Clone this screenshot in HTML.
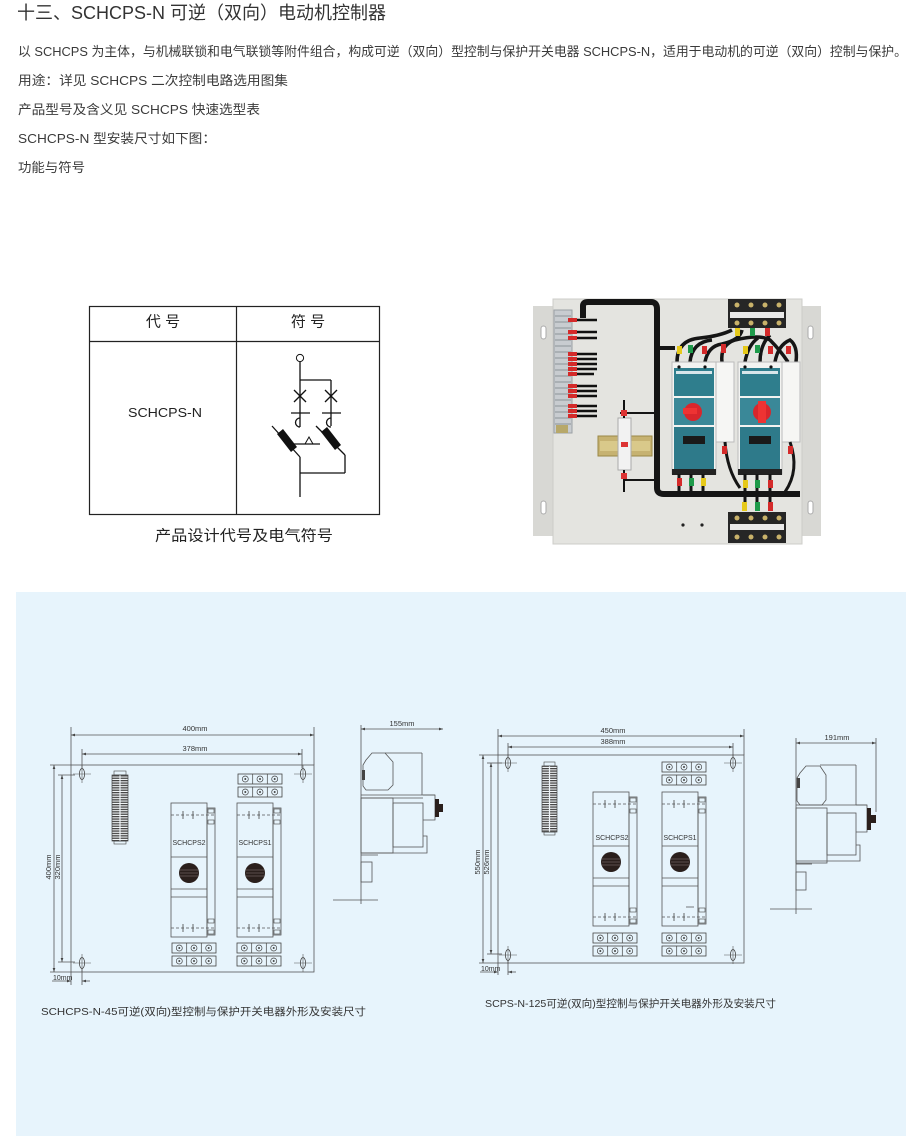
<!DOCTYPE html>
<html><head><meta charset="utf-8"><style>
html,body{margin:0;padding:0;background:#fff;}
svg{display:block;}
text{font-family:"Liberation Sans","Noto Sans CJK SC",sans-serif;}
</style></head><body>
<svg width="910" height="1137" viewBox="0 0 910 1137" xmlns="http://www.w3.org/2000/svg">
<defs>
<marker id="ar" viewBox="0 0 6 6" refX="6" refY="3" markerWidth="5" markerHeight="5" orient="auto-start-reverse"><path d="M0,1 L6,3 L0,5 z" fill="#444"/></marker>
<pattern id="hatch" width="4" height="2.4" patternUnits="userSpaceOnUse"><rect width="4" height="2.4" fill="#f4f8fa"/><rect width="4" height="1.3" fill="#444"/></pattern>
<g id="unit">
<rect x="0" y="0" width="36" height="134" fill="none" stroke="#555" stroke-width="0.8"/>
<rect x="36" y="5" width="8" height="127" fill="none" stroke="#555" stroke-width="0.8"/>
<line x1="0" y1="12" x2="44" y2="12" stroke="#555" stroke-width="0.7" stroke-dasharray="3,2"/>
<line x1="12" y1="8" x2="12" y2="16" stroke="#444" stroke-width="0.8"/>
<line x1="22" y1="8" x2="22" y2="16" stroke="#444" stroke-width="0.8"/>
<line x1="0" y1="54" x2="36" y2="54" stroke="#555" stroke-width="0.7"/>
<line x1="0" y1="86" x2="36" y2="86" stroke="#555" stroke-width="0.7"/>
<line x1="0" y1="94" x2="36" y2="94" stroke="#555" stroke-width="0.7"/>
<line x1="0" y1="125" x2="44" y2="125" stroke="#555" stroke-width="0.7" stroke-dasharray="3,2"/>
<line x1="12" y1="121" x2="12" y2="129" stroke="#444" stroke-width="0.8"/>
<line x1="22" y1="121" x2="22" y2="129" stroke="#444" stroke-width="0.8"/>
<rect x="37" y="6" width="6" height="4" fill="none" stroke="#444" stroke-width="0.6"/>
<rect x="37" y="17" width="6" height="4" fill="none" stroke="#444" stroke-width="0.6"/>
<rect x="37" y="116" width="6" height="4" fill="none" stroke="#444" stroke-width="0.6"/>
<rect x="37" y="127" width="6" height="4" fill="none" stroke="#444" stroke-width="0.6"/>
<circle cx="18" cy="70" r="10" fill="#2a1f1c"/>
<line x1="9" y1="67" x2="27" y2="67" stroke="#8a7f7a" stroke-width="0.6"/>
<line x1="9" y1="70" x2="27" y2="70" stroke="#8a7f7a" stroke-width="0.6"/>
<line x1="9" y1="73" x2="27" y2="73" stroke="#8a7f7a" stroke-width="0.6"/>
</g>
<g id="tb">
<rect x="0" y="0" width="44" height="10" fill="none" stroke="#444" stroke-width="0.8"/>
<rect x="0" y="13" width="44" height="10" fill="none" stroke="#444" stroke-width="0.8"/>
<line x1="14.7" y1="0" x2="14.7" y2="10" stroke="#444" stroke-width="0.7"/>
<line x1="29.3" y1="0" x2="29.3" y2="10" stroke="#444" stroke-width="0.7"/>
<line x1="14.7" y1="13" x2="14.7" y2="23" stroke="#444" stroke-width="0.7"/>
<line x1="29.3" y1="13" x2="29.3" y2="23" stroke="#444" stroke-width="0.7"/>
<g fill="none" stroke="#444" stroke-width="0.7">
<circle cx="7.3" cy="5" r="3"/><circle cx="22" cy="5" r="3"/><circle cx="36.7" cy="5" r="3"/>
<circle cx="7.3" cy="18" r="3"/><circle cx="22" cy="18" r="3"/><circle cx="36.7" cy="18" r="3"/>
</g>
<g fill="#444"><circle cx="7.3" cy="5" r="1"/><circle cx="22" cy="5" r="1"/><circle cx="36.7" cy="5" r="1"/><circle cx="7.3" cy="18" r="1"/><circle cx="22" cy="18" r="1"/><circle cx="36.7" cy="18" r="1"/></g>
</g>
<g id="hole">
<ellipse cx="0" cy="0" rx="2.6" ry="5.5" fill="none" stroke="#444" stroke-width="0.8"/>
<line x1="-9" y1="0" x2="9" y2="0" stroke="#555" stroke-width="0.6"/>
<line x1="0" y1="-9" x2="0" y2="9" stroke="#555" stroke-width="0.6"/>
</g>
</defs>

<!-- header text -->
<text x="17" y="19" font-size="18" fill="#333" textLength="369" lengthAdjust="spacingAndGlyphs">十三、SCHCPS-N 可逆（双向）电动机控制器</text>
<text x="18" y="56" font-size="13" fill="#3a3a3a" textLength="889" lengthAdjust="spacingAndGlyphs">以 SCHCPS 为主体，与机械联锁和电气联锁等附件组合，构成可逆（双向）型控制与保护开关电器 SCHCPS-N，适用于电动机的可逆（双向）控制与保护。</text>
<text x="18" y="85" font-size="13" fill="#3a3a3a" textLength="270" lengthAdjust="spacingAndGlyphs">用途：详见 SCHCPS 二次控制电路选用图集</text>
<text x="18" y="114" font-size="13" fill="#3a3a3a" textLength="242" lengthAdjust="spacingAndGlyphs">产品型号及含义见 SCHCPS 快速选型表</text>
<text x="18" y="143" font-size="13" fill="#3a3a3a" textLength="198" lengthAdjust="spacingAndGlyphs">SCHCPS-N 型安装尺寸如下图：</text>
<text x="18" y="172" font-size="13" fill="#3a3a3a" textLength="67" lengthAdjust="spacingAndGlyphs">功能与符号</text>

<!-- table -->
<rect x="89.5" y="306.5" width="290" height="208" fill="none" stroke="#222" stroke-width="1.2"/>
<line x1="89.5" y1="341.5" x2="379.5" y2="341.5" stroke="#222" stroke-width="1.2"/>
<line x1="236.5" y1="306.5" x2="236.5" y2="514.5" stroke="#222" stroke-width="1.2"/>
<text x="163" y="326.5" font-size="15" fill="#222" text-anchor="middle">代 号</text>
<text x="308" y="326.5" font-size="15" fill="#222" text-anchor="middle">符 号</text>
<text x="128" y="417" font-size="13" fill="#222" textLength="74" lengthAdjust="spacingAndGlyphs">SCHCPS-N</text>
<text x="155" y="540.5" font-size="15" fill="#222" textLength="178" lengthAdjust="spacingAndGlyphs">产品设计代号及电气符号</text>

<!-- symbol -->
<g stroke="#111" stroke-width="1.3" fill="none">
<circle cx="300" cy="358" r="3.6" stroke-width="1"/>
<line x1="300" y1="362" x2="300" y2="427"/>
<line x1="300" y1="380" x2="331" y2="380"/>
<line x1="331" y1="380" x2="331" y2="426"/>
<line x1="294" y1="390" x2="306" y2="402"/><line x1="306" y1="390" x2="294" y2="402"/>
<line x1="325" y1="390" x2="337" y2="402"/><line x1="337" y1="390" x2="325" y2="402"/>
<line x1="291" y1="413" x2="310" y2="413"/>
<line x1="322" y1="413" x2="341" y2="413"/>
<path d="M300,418 a4,4 0 0 0 0,9"/>
<path d="M331,418 a4,4 0 0 0 0,9"/>
<line x1="272" y1="426" x2="300" y2="457"/>
<line x1="300" y1="457" x2="300" y2="497"/>
<line x1="316" y1="426" x2="345" y2="455"/>
<line x1="345" y1="455" x2="345" y2="473"/>
<line x1="300" y1="473" x2="345" y2="473"/>
<line x1="292" y1="444" x2="320" y2="444"/>
<path d="M305,444 L309,437 L313,444 z" stroke-width="1"/>
</g>
<path d="M277,434 L283,429 L297,447 L291,452 z" fill="#111"/>
<path d="M321,432 L327,427 L341,445 L335,450 z" fill="#111"/>

<!-- photo -->
<g>
<rect x="533" y="306" width="22" height="230" fill="#d8d8d4"/>
<rect x="800" y="306" width="21" height="230" fill="#d8d8d4"/>
<rect x="553" y="299" width="249" height="245" fill="#e4e4e0" stroke="#cdcdc9"/>
<rect x="541" y="326" width="5" height="13" rx="2.5" fill="#fff" stroke="#aaa"/>
<rect x="541" y="501" width="5" height="13" rx="2.5" fill="#fff" stroke="#aaa"/>
<rect x="808" y="326" width="5" height="13" rx="2.5" fill="#fff" stroke="#aaa"/>
<rect x="808" y="501" width="5" height="13" rx="2.5" fill="#fff" stroke="#aaa"/>
<!-- left terminal strip -->
<rect x="554" y="310" width="18" height="123" fill="#c8ccd0" stroke="#9aa0a5"/>
<g stroke="#8c9399" stroke-width="1">
<line x1="555" y1="316" x2="571" y2="316"/><line x1="555" y1="322" x2="571" y2="322"/><line x1="555" y1="328" x2="571" y2="328"/><line x1="555" y1="334" x2="571" y2="334"/><line x1="555" y1="340" x2="571" y2="340"/><line x1="555" y1="346" x2="571" y2="346"/><line x1="555" y1="352" x2="571" y2="352"/><line x1="555" y1="358" x2="571" y2="358"/><line x1="555" y1="364" x2="571" y2="364"/><line x1="555" y1="370" x2="571" y2="370"/><line x1="555" y1="376" x2="571" y2="376"/><line x1="555" y1="382" x2="571" y2="382"/><line x1="555" y1="388" x2="571" y2="388"/><line x1="555" y1="394" x2="571" y2="394"/><line x1="555" y1="400" x2="571" y2="400"/><line x1="555" y1="406" x2="571" y2="406"/><line x1="555" y1="412" x2="571" y2="412"/><line x1="555" y1="418" x2="571" y2="418"/><line x1="555" y1="424" x2="571" y2="424"/>
</g>
<g stroke="#111" stroke-width="2.6">
<line x1="572" y1="320" x2="597" y2="320"/><line x1="572" y1="332" x2="597" y2="332"/><line x1="572" y1="338" x2="597" y2="338"/><line x1="572" y1="354" x2="597" y2="354"/><line x1="572" y1="359" x2="597" y2="359"/><line x1="572" y1="364" x2="597" y2="364"/><line x1="572" y1="369" x2="597" y2="369"/><line x1="572" y1="374" x2="594" y2="374"/><line x1="572" y1="386" x2="597" y2="386"/><line x1="572" y1="391" x2="597" y2="391"/><line x1="572" y1="396" x2="597" y2="396"/><line x1="572" y1="406" x2="597" y2="406"/><line x1="572" y1="411" x2="597" y2="411"/><line x1="572" y1="416" x2="597" y2="416"/>
</g>
<g fill="#d42a2a">
<rect x="568" y="318" width="9" height="4"/><rect x="568" y="330" width="9" height="4"/><rect x="568" y="336" width="9" height="4"/><rect x="568" y="352" width="9" height="4"/><rect x="568" y="357" width="9" height="4"/><rect x="568" y="362" width="9" height="4"/><rect x="568" y="367" width="9" height="4"/><rect x="568" y="372" width="9" height="4"/><rect x="568" y="384" width="9" height="4"/><rect x="568" y="389" width="9" height="4"/><rect x="568" y="394" width="9" height="4"/><rect x="568" y="404" width="9" height="4"/><rect x="568" y="409" width="9" height="4"/><rect x="568" y="414" width="9" height="4"/>
</g>
<rect x="556" y="425" width="12" height="8" fill="#b7a86a"/>
<!-- black trunk cable -->
<path d="M583,318 L583,306 Q583,302 588,302 L651,302 Q657,302 657,309 L657,488 Q657,494 664,494 L800,494" fill="none" stroke="#151515" stroke-width="6"/>
<line x1="657" y1="348" x2="675" y2="348" stroke="#151515" stroke-width="4"/>
<line x1="620" y1="413" x2="657" y2="413" stroke="#151515" stroke-width="2"/>
<line x1="625" y1="480" x2="657" y2="480" stroke="#151515" stroke-width="2"/>
<!-- DIN rail & breaker -->
<rect x="598" y="436" width="54" height="20" fill="#c6b271" stroke="#9a8846"/>
<rect x="600" y="441" width="50" height="10" fill="#d9c98a"/>
<rect x="618" y="418" width="13" height="52" fill="#f2f2f2" stroke="#aaa"/>
<rect x="621" y="442" width="7" height="5" fill="#d33"/>
<line x1="624" y1="400" x2="624" y2="418" stroke="#111" stroke-width="2"/>
<rect x="621" y="410" width="6" height="6" fill="#d33"/>
<line x1="624" y1="470" x2="624" y2="492" stroke="#111" stroke-width="2"/>
<rect x="621" y="473" width="6" height="6" fill="#d33"/>
<!-- top wire bundle -->
<g fill="none" stroke="#151515" stroke-width="3.5">
<path d="M677,362 Q677,340 700,338 Q720,336 732,330"/>
<path d="M690,362 Q692,342 712,340"/>
<path d="M705,362 Q708,346 722,344 Q740,340 742,330"/>
<path d="M722,362 Q720,345 735,340 Q760,334 770,340 Q780,350 788,362"/>
<path d="M745,362 Q748,345 758,338"/>
<path d="M760,362 Q760,345 770,335"/>
<path d="M775,362 Q778,345 790,340 Q798,346 796,362"/>
</g>
<g>
<rect x="677" y="346" width="5" height="8" fill="#e6c91a"/><rect x="688" y="345" width="5" height="8" fill="#1e9a4a"/><rect x="702" y="346" width="5" height="8" fill="#d42a2a"/><rect x="721" y="344" width="5" height="9" fill="#d42a2a"/>
<rect x="743" y="346" width="5" height="8" fill="#e6c91a"/><rect x="755" y="345" width="5" height="8" fill="#1e9a4a"/><rect x="768" y="346" width="5" height="8" fill="#d42a2a"/><rect x="786" y="346" width="5" height="8" fill="#d42a2a"/>
</g>
<!-- top terminal -->
<rect x="728" y="299" width="58" height="29" fill="#262626"/>
<rect x="730" y="312" width="54" height="6" fill="#eaeaea"/>
<g fill="#c9b26a"><circle cx="737" cy="305" r="2.5"/><circle cx="751" cy="305" r="2.5"/><circle cx="765" cy="305" r="2.5"/><circle cx="779" cy="305" r="2.5"/><circle cx="737" cy="323" r="2.5"/><circle cx="751" cy="323" r="2.5"/><circle cx="765" cy="323" r="2.5"/><circle cx="779" cy="323" r="2.5"/></g>
<rect x="735" y="328" width="5" height="8" fill="#e6c91a"/><rect x="750" y="328" width="5" height="8" fill="#1e9a4a"/><rect x="765" y="328" width="5" height="8" fill="#d42a2a"/>
<!-- CPS units -->
<g>
<rect x="672" y="362" width="44" height="112" fill="#f3f3f1" stroke="#bbb"/>
<rect x="674" y="368" width="40" height="28" fill="#2f7e8d"/>
<rect x="676" y="371" width="36" height="3" fill="#d8e6ea"/>
<rect x="674" y="398" width="40" height="27" fill="#3a8898"/>
<circle cx="693" cy="412" r="9" fill="#d8262c"/>
<rect x="683" y="408" width="14" height="6" fill="#e33" />
<rect x="674" y="427" width="40" height="42" fill="#2e7a8a"/>
<rect x="683" y="436" width="22" height="8" fill="#1a1a1a"/>
<rect x="672" y="469" width="44" height="6" fill="#222"/>
<rect x="716" y="362" width="18" height="80" fill="#f6f6f4" stroke="#bbb"/>
<circle cx="679" cy="367" r="1.6" fill="#111"/><circle cx="705" cy="367" r="1.6" fill="#111"/>
</g>
<g>
<rect x="738" y="362" width="44" height="112" fill="#f3f3f1" stroke="#bbb"/>
<rect x="740" y="368" width="40" height="28" fill="#2f7e8d"/>
<rect x="742" y="371" width="36" height="3" fill="#d8e6ea"/>
<rect x="740" y="398" width="40" height="27" fill="#3a8898"/>
<circle cx="762" cy="412" r="9" fill="#d8262c"/>
<rect x="758" y="401" width="8" height="22" fill="#e33"/>
<rect x="740" y="427" width="40" height="42" fill="#2e7a8a"/>
<rect x="749" y="436" width="22" height="8" fill="#1a1a1a"/>
<rect x="738" y="469" width="44" height="6" fill="#222"/>
<rect x="782" y="362" width="18" height="80" fill="#f6f6f4" stroke="#bbb"/>
<circle cx="745" cy="367" r="1.6" fill="#111"/><circle cx="771" cy="367" r="1.6" fill="#111"/>
</g>
<!-- lower wiring -->
<g fill="none" stroke="#151515" stroke-width="3">
<path d="M679,474 L679,492"/><path d="M691,474 L691,492"/><path d="M703,474 L703,492"/>
<path d="M745,474 L745,510"/><path d="M757,474 L757,510"/><path d="M770,474 L770,510"/>
<path d="M725,442 Q727,470 740,488"/><path d="M790,442 Q800,470 785,492"/>
</g>
<g>
<rect x="677" y="478" width="5" height="8" fill="#d42a2a"/><rect x="689" y="478" width="5" height="8" fill="#1e9a4a"/><rect x="701" y="478" width="5" height="8" fill="#e6c91a"/>
<rect x="743" y="480" width="5" height="8" fill="#e6c91a"/><rect x="755" y="480" width="5" height="8" fill="#1e9a4a"/><rect x="768" y="480" width="5" height="8" fill="#d42a2a"/>
<rect x="742" y="502" width="5" height="9" fill="#e6c91a"/><rect x="755" y="502" width="5" height="9" fill="#1e9a4a"/><rect x="768" y="502" width="5" height="9" fill="#d42a2a"/>
<rect x="722" y="446" width="5" height="8" fill="#d42a2a"/><rect x="788" y="446" width="5" height="8" fill="#d42a2a"/>
</g>
<!-- bottom terminal -->
<rect x="728" y="512" width="58" height="31" fill="#262626"/>
<rect x="730" y="524" width="54" height="6" fill="#eaeaea"/>
<g fill="#c9b26a"><circle cx="737" cy="518" r="2.5"/><circle cx="751" cy="518" r="2.5"/><circle cx="765" cy="518" r="2.5"/><circle cx="779" cy="518" r="2.5"/><circle cx="737" cy="537" r="2.5"/><circle cx="751" cy="537" r="2.5"/><circle cx="765" cy="537" r="2.5"/><circle cx="779" cy="537" r="2.5"/></g>
<circle cx="683" cy="525" r="1.6" fill="#222"/><circle cx="702" cy="525" r="1.6" fill="#222"/>
</g>

<!-- blue area -->
<rect x="16" y="592" width="890" height="544" fill="#e7f4fc"/>

<!-- LEFT DRAWING -->
<g stroke="#555" stroke-width="0.8" fill="none">
<rect x="71" y="765" width="243" height="207"/>
<line x1="71" y1="727" x2="71" y2="765"/>
<line x1="314" y1="727" x2="314" y2="765"/>
<line x1="82" y1="749" x2="82" y2="768"/>
<line x1="302" y1="749" x2="302" y2="768"/>
<line x1="71" y1="735" x2="314" y2="735" marker-start="url(#ar)" marker-end="url(#ar)"/>
<line x1="82" y1="754" x2="302" y2="754" marker-start="url(#ar)" marker-end="url(#ar)"/>
<line x1="50" y1="765" x2="71" y2="765"/>
<line x1="50" y1="972" x2="71" y2="972"/>
<line x1="58" y1="775" x2="75" y2="775"/>
<line x1="58" y1="962" x2="75" y2="962"/>
<line x1="54" y1="765" x2="54" y2="972" marker-start="url(#ar)" marker-end="url(#ar)"/>
<line x1="62" y1="775" x2="62" y2="962" marker-start="url(#ar)" marker-end="url(#ar)"/>
<line x1="82" y1="968" x2="82" y2="985"/>
<line x1="71" y1="972" x2="71" y2="985"/>
<line x1="52" y1="981" x2="71" y2="981" marker-end="url(#ar)"/>
<line x1="90" y1="981" x2="82" y2="981" marker-end="url(#ar)"/>
</g>
<use href="#hole" x="82" y="774"/>
<use href="#hole" x="303" y="774"/>
<use href="#hole" x="82" y="963"/>
<use href="#hole" x="303" y="963"/>
<text x="195" y="731" font-size="7.5" fill="#333" text-anchor="middle">400mm</text>
<text x="195" y="751" font-size="7.5" fill="#333" text-anchor="middle">378mm</text>
<text transform="translate(51,867) rotate(-90)" font-size="7.5" fill="#333" text-anchor="middle">400mm</text>
<text transform="translate(60,867) rotate(-90)" font-size="7.5" fill="#333" text-anchor="middle">320mm</text>
<text x="53" y="980" font-size="7" fill="#333">10mm</text>
<rect x="112" y="775" width="16" height="66" fill="url(#hatch)" stroke="#444" stroke-width="0.7"/>
<line x1="120" y1="775" x2="120" y2="841" stroke="#eef4f8" stroke-width="1.2"/>
<rect x="114" y="771" width="12" height="4" fill="none" stroke="#444" stroke-width="0.6"/>
<rect x="114" y="841" width="12" height="3" fill="none" stroke="#444" stroke-width="0.6"/>
<use href="#unit" x="171" y="803"/>
<use href="#unit" x="237" y="803"/>
<text x="189" y="845" font-size="7" fill="#333" text-anchor="middle">SCHCPS2</text>
<text x="255" y="845" font-size="7" fill="#333" text-anchor="middle">SCHCPS1</text>
<use href="#tb" x="238" y="774"/>
<use href="#tb" x="172" y="943"/>
<use href="#tb" x="237" y="943"/>

<!-- LEFT SIDE VIEW -->
<g stroke="#555" stroke-width="0.8" fill="none">
<line x1="361" y1="725" x2="361" y2="904"/>
<line x1="333" y1="900" x2="378" y2="900"/>
<line x1="361" y1="729" x2="443" y2="729" marker-start="url(#ar)" marker-end="url(#ar)"/>
<path d="M366,760 L372,753 L385,753 L393,762 L393,785 L388,790 L366,790 L363,786 L363,765 z"/>
<line x1="385" y1="753" x2="422" y2="753"/>
<line x1="422" y1="753" x2="422" y2="795"/>
<line x1="361" y1="795" x2="435" y2="795"/>
<line x1="361" y1="798" x2="423" y2="798"/>
<rect x="361" y="798" width="32" height="55"/>
<rect x="393" y="803" width="30" height="44"/>
<path d="M423,795 L435,795 L435,820 L423,820"/>
<path d="M423,836 L427,836 L427,853 L361,853"/>
<line x1="361" y1="855" x2="378" y2="855"/>
<rect x="361" y="862" width="11" height="20"/>
</g>
<rect x="435" y="799" width="4" height="18" fill="#2a1f1c"/>
<rect x="439" y="804" width="4" height="8" fill="#2a1f1c"/>
<rect x="362" y="770" width="3" height="10" fill="#444"/>
<text x="402" y="726" font-size="7.5" fill="#333" text-anchor="middle">155mm</text>

<!-- RIGHT DRAWING -->
<g stroke="#555" stroke-width="0.8" fill="none">
<rect x="498" y="755" width="246" height="208"/>
<line x1="498" y1="729" x2="498" y2="755"/>
<line x1="744" y1="729" x2="744" y2="755"/>
<line x1="508" y1="743" x2="508" y2="757"/>
<line x1="733" y1="743" x2="733" y2="757"/>
<line x1="498" y1="736" x2="744" y2="736" marker-start="url(#ar)" marker-end="url(#ar)"/>
<line x1="508" y1="747" x2="733" y2="747" marker-start="url(#ar)" marker-end="url(#ar)"/>
<line x1="479" y1="755" x2="498" y2="755"/>
<line x1="479" y1="963" x2="498" y2="963"/>
<line x1="487" y1="763" x2="502" y2="763"/>
<line x1="487" y1="954" x2="502" y2="954"/>
<line x1="483" y1="755" x2="483" y2="963" marker-start="url(#ar)" marker-end="url(#ar)"/>
<line x1="491" y1="763" x2="491" y2="954" marker-start="url(#ar)" marker-end="url(#ar)"/>
<line x1="508" y1="960" x2="508" y2="975"/>
<line x1="498" y1="963" x2="498" y2="975"/>
<line x1="480" y1="972" x2="498" y2="972" marker-end="url(#ar)"/>
<line x1="516" y1="972" x2="508" y2="972" marker-end="url(#ar)"/>
</g>
<use href="#hole" x="508" y="763"/>
<use href="#hole" x="733" y="763"/>
<use href="#hole" x="508" y="955"/>
<use href="#hole" x="733" y="955"/>
<text x="613" y="733" font-size="7.5" fill="#333" text-anchor="middle">450mm</text>
<text x="613" y="744" font-size="7.5" fill="#333" text-anchor="middle">388mm</text>
<text transform="translate(480,862) rotate(-90)" font-size="7.5" fill="#333" text-anchor="middle">550mm</text>
<text transform="translate(489,862) rotate(-90)" font-size="7.5" fill="#333" text-anchor="middle">526mm</text>
<text x="481" y="971" font-size="7" fill="#333">10mm</text>
<rect x="542" y="766" width="15" height="66" fill="url(#hatch)" stroke="#444" stroke-width="0.7"/>
<line x1="549.5" y1="766" x2="549.5" y2="832" stroke="#eef4f8" stroke-width="1.2"/>
<rect x="544" y="762" width="11" height="4" fill="none" stroke="#444" stroke-width="0.6"/>
<rect x="544" y="832" width="11" height="3" fill="none" stroke="#444" stroke-width="0.6"/>
<use href="#unit" x="593" y="792" transform="translate(0,0)"/>
<use href="#unit" x="662" y="792"/>
<text x="612" y="840" font-size="7" fill="#333" text-anchor="middle">SCHCPS2</text>
<text x="680" y="840" font-size="7" fill="#333" text-anchor="middle">SCHCPS1</text>
<line x1="686" y1="907" x2="694" y2="907" stroke="#444" stroke-width="0.7"/>
<use href="#tb" x="662" y="762"/>
<use href="#tb" x="593" y="933"/>
<use href="#tb" x="662" y="933"/>

<!-- RIGHT SIDE VIEW -->
<g stroke="#555" stroke-width="0.8" fill="none">
<line x1="796" y1="738" x2="796" y2="914"/>
<line x1="770" y1="909" x2="812" y2="909"/>
<line x1="876" y1="738" x2="876" y2="812"/>
<line x1="796" y1="743" x2="876" y2="743" marker-start="url(#ar)" marker-end="url(#ar)"/>
<path d="M800,773 L806,766 L820,766 L826,775 L826,800 L822,805 L800,805 L797,801 L797,778 z"/>
<line x1="820" y1="765" x2="856" y2="765"/>
<line x1="856" y1="765" x2="856" y2="805"/>
<line x1="796" y1="805" x2="867" y2="805"/>
<rect x="796" y="808" width="31" height="55"/>
<rect x="827" y="813" width="29" height="42"/>
<path d="M856,805 L867,805 L867,832 L856,832"/>
<path d="M856,845 L860,845 L860,861 L796,861"/>
<line x1="796" y1="864" x2="812" y2="864"/>
<rect x="796" y="872" width="10" height="18"/>
</g>
<rect x="867" y="808" width="4" height="22" fill="#2a1f1c"/>
<rect x="871" y="815" width="5" height="8" fill="#2a1f1c"/>
<rect x="797" y="778" width="3" height="10" fill="#444"/>
<text x="837" y="740" font-size="7.5" fill="#333" text-anchor="middle">191mm</text>

<!-- captions -->
<text x="41" y="1015" font-size="10.5" fill="#333" textLength="325" lengthAdjust="spacingAndGlyphs">SCHCPS-N-45可逆(双向)型控制与保护开关电器外形及安装尺寸</text>
<text x="485" y="1007" font-size="10.5" fill="#333" textLength="291" lengthAdjust="spacingAndGlyphs">SCPS-N-125可逆(双向)型控制与保护开关电器外形及安装尺寸</text>
</svg>
</body></html>
